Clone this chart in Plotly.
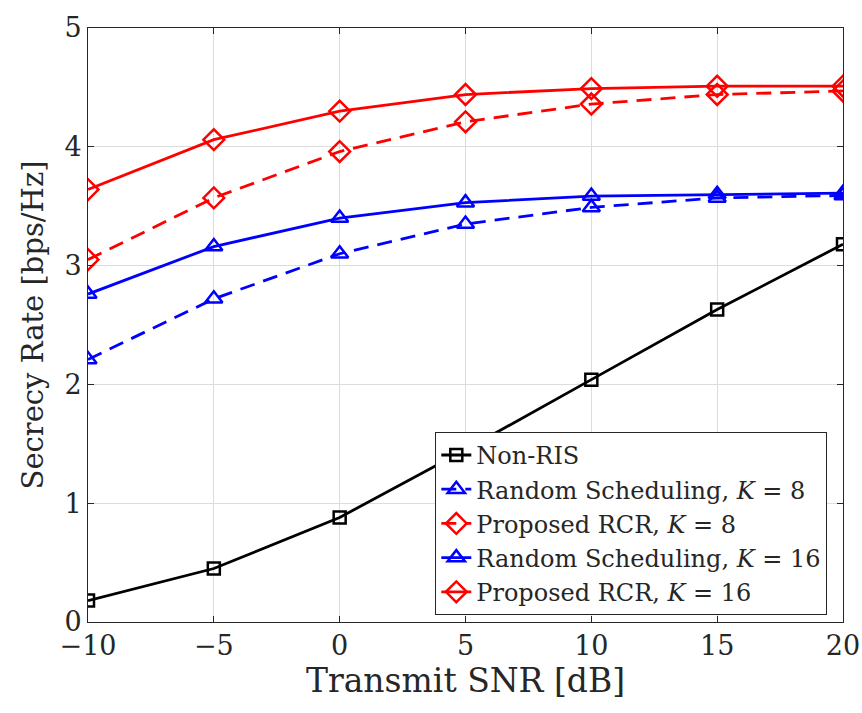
import plotly.graph_objects as go

snr = [-10, -5, 0, 5, 10, 15, 20]
non_ris = [0.18, 0.45, 0.88, 1.45, 2.04, 2.63, 3.18]
random_k8 = [2.21, 2.72, 3.10, 3.35, 3.49, 3.57, 3.59]
rcr_k8 = [3.05, 3.57, 3.96, 4.21, 4.36, 4.44, 4.47]
random_k16 = [2.76, 3.16, 3.40, 3.53, 3.585, 3.60, 3.61]
rcr_k16 = [3.64, 4.06, 4.30, 4.44, 4.49, 4.51, 4.51]

font_family = "DejaVu Serif, Liberation Serif, serif"
txt = "#262626"

fig = go.Figure()
series = [
    ("Non-RIS", non_ris, "black", "solid", "square-open", 12),
    ("Random Scheduling, <i>K</i> = 8", random_k8, "blue", "15px,9px", "triangle-up-open", 15),
    ("Proposed RCR, <i>K</i> = 8", rcr_k8, "red", "15px,9px", "diamond-open", 16),
    ("Random Scheduling, <i>K</i> = 16", random_k16, "blue", "solid", "triangle-up-open", 15),
    ("Proposed RCR, <i>K</i> = 16", rcr_k16, "red", "solid", "diamond-open", 16),
]
for name, ys, col, dash, sym, ms in series:
    fig.add_trace(go.Scatter(
        x=snr, y=ys, name=name, mode="lines+markers",
        line=dict(color=col, width=2.8, dash=dash),
        marker=dict(symbol=sym, size=ms, color=col, line=dict(width=2.5, color=col)),
    ))

axis_common = dict(
    showgrid=True, gridcolor="#dcdcdc", gridwidth=1,
    showline=True, linecolor="#262626", linewidth=1, mirror="ticks",
    ticks="inside", ticklen=6, tickcolor="#262626",
    tickfont=dict(family=font_family, size=27, color=txt),
    zeroline=False, automargin=False,
)
fig.update_xaxes(range=[-10, 20], tickvals=[-10, -5, 0, 5, 10, 15, 20],
                 ticktext=["\u221210", "\u22125", "0", "5", "10", "15", "20"],
                 title=dict(text="Transmit SNR [dB]", font=dict(family=font_family, size=33, color=txt), standoff=6),
                 **axis_common)
fig.update_yaxes(range=[0, 5], tickvals=[0, 1, 2, 3, 4, 5],
                 title=dict(text="Secrecy Rate [bps/Hz]", font=dict(family=font_family, size=29, color=txt), standoff=12),
                 **axis_common)

fig.update_layout(
    width=862, height=713,
    margin=dict(l=88, r=19, t=28, b=91, autoexpand=False),
    paper_bgcolor="white", plot_bgcolor="white",
    font=dict(family=font_family, color=txt),
    legend=dict(
        x=0.46, y=0.32, xanchor="left", yanchor="top",
        bgcolor="white", bordercolor="#262626", borderwidth=1,
        font=dict(family=font_family, size=24, color=txt),
        itemwidth=30, tracegroupgap=0,
    ),
    showlegend=True,
)

fig.write_html("out.html", config={"displayModeBar": False},
               post_script="document.body.style.margin='0';document.body.style.overflow='hidden';")
